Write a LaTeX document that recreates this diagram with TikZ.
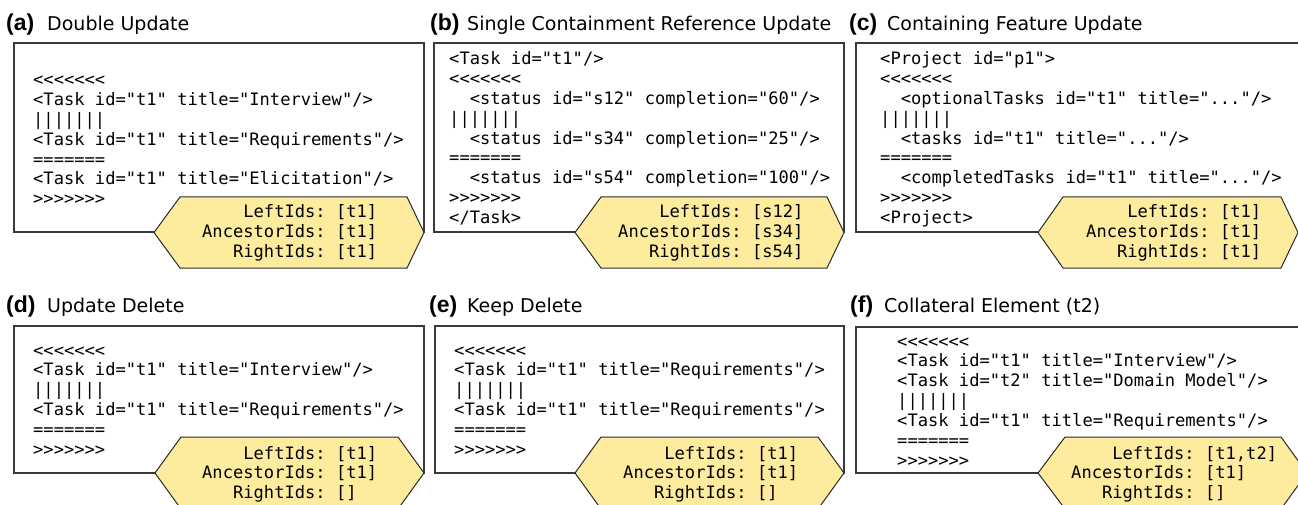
\documentclass[tikz,border=0pt]{standalone}
\usepackage{fontspec}
\setmainfont{DejaVu Sans}
\setmonofont{DejaVu Sans Mono}
\newfontfamily\labfont{Liberation Sans}
\definecolor{boxgray}{HTML}{3A3A3A}
\definecolor{hexline}{HTML}{2A2A2A}
\definecolor{hexfill}{HTML}{FDEB9E}
\newcommand\codeblk[1]{\vtop{\baselineskip=19.9pt\lineskiplimit=-100pt\lineskip=0pt\relax #1}}
\newcommand\ind{\phantom{xx}}
\tikzset{
  panelbox/.style={draw=boxgray, line width=1.3pt},
  idshex/.style={draw=hexline, fill=hexfill, line width=1pt, line join=miter},
  paneltag/.style={anchor=base west, inner sep=0pt, font=\labfont\bfseries\fontsize{23}{23}\selectfont},
  paneltitle/.style={anchor=base west, inner sep=0pt, font=\fontsize{19}{19}\selectfont},
  codetext/.style={anchor=base west, inner sep=0pt, font=\ttfamily\fontsize{17.1}{19.9}\selectfont},
}
\begin{document}
\begin{tikzpicture}[x=1pt,y=-1pt]
\useasboundingbox (0,0) rectangle (1298,505);
\fill[white] (0,0) rectangle (1298,505);
\clip (0,0) rectangle (1298,505);

% ---------- (a) ----------
\node[paneltag] (atag) at (6,31) {(a)};
\node[paneltitle] (atitle) at (47,31) {Double Update};
\draw[panelbox] (14,43) rectangle (424,232);
\node[codetext] (acode) at (33,85.5) {\codeblk{%
\hbox{<<<<<<<}%
\hbox{<Task id="t1" title="Interview"/>}%
\hbox{|||||||}%
\hbox{<Task id="t1" title="Requirements"/>}%
\hbox{=======}%
\hbox{<Task id="t1" title="Elicitation"/>}%
\hbox{>>>>>>>}}};
\draw[idshex] (154,232.5) -- (180,197) -- (407,197) -- (424,232.5) -- (407,268) -- (180,268) -- cycle;
\node[codetext] (aids) at (202,218) {\codeblk{%
\hbox{\phantom{xxxx}LeftIds: [t1]}%
\hbox{AncestorIds: [t1]}%
\hbox{\phantom{xxx}RightIds: [t1]}}};

% ---------- (b) ----------
\node[paneltag] (btag) at (430,31) {(b)};
\node[paneltitle] (btitle) at (467,31) {Single Containment Reference Update};
\draw[panelbox] (434,43) rectangle (844,232);
\node[codetext] (bcode) at (449,64.5) {\codeblk{%
\hbox{<Task id="t1"/>}%
\hbox{<<<<<<<}%
\hbox{\ind<status id="s12" completion="60"/>}%
\hbox{|||||||}%
\hbox{\ind<status id="s34" completion="25"/>}%
\hbox{=======}%
\hbox{\ind<status id="s54" completion="100"/>}%
\hbox{>>>>>>>}%
\hbox{</Task>}}};
\draw[idshex] (575,232.5) -- (601,197) -- (827,197) -- (844,232.5) -- (827,268) -- (601,268) -- cycle;
\node[codetext] (bids) at (618,218) {\codeblk{%
\hbox{\phantom{xxxx}LeftIds: [s12]}%
\hbox{AncestorIds: [s34]}%
\hbox{\phantom{xxx}RightIds: [s54]}}};

% ---------- (c) ----------
\node[paneltag] (ctag) at (849,31) {(c)};
\node[paneltitle] (ctitle) at (887,31) {Containing Feature Update};
\draw[panelbox] (856,43) rectangle (1299,232);
\node[codetext] (ccode) at (880,64.5) {\codeblk{%
\hbox{<Project id="p1">}%
\hbox{<<<<<<<}%
\hbox{\ind<optionalTasks id="t1" title="..."/>}%
\hbox{|||||||}%
\hbox{\ind<tasks id="t1" title="..."/>}%
\hbox{=======}%
\hbox{\ind<completedTasks id="t1" title="..."/>}%
\hbox{>>>>>>>}%
\hbox{<Project>}}};
\draw[idshex] (1038,232.5) -- (1063,197) -- (1281,197) -- (1298,232.5) -- (1281,268) -- (1063,268) -- cycle;
\node[codetext] (cids) at (1086,218) {\codeblk{%
\hbox{\phantom{xxxx}LeftIds: [t1]}%
\hbox{AncestorIds: [t1]}%
\hbox{\phantom{xxx}RightIds: [t1]}}};

% ---------- (d) ----------
\node[paneltag] (dtag) at (6,312) {(d)};
\node[paneltitle] (dtitle) at (47,312) {Update Delete};
\draw[panelbox] (14,326) rectangle (424,473);
\node[codetext] (dcode) at (33,356) {\codeblk{%
\hbox{<<<<<<<}%
\hbox{<Task id="t1" title="Interview"/>}%
\hbox{|||||||}%
\hbox{<Task id="t1" title="Requirements"/>}%
\hbox{=======}%
\hbox{>>>>>>>}}};
\draw[idshex] (155,473) -- (181,437) -- (398,437) -- (424,473) -- (398,509) -- (181,509) -- cycle;
\node[codetext] (dids) at (202,459) {\codeblk{%
\hbox{\phantom{xxxx}LeftIds: [t1]}%
\hbox{AncestorIds: [t1]}%
\hbox{\phantom{xxx}RightIds: []}}};

% ---------- (e) ----------
\node[paneltag] (etag) at (429,312) {(e)};
\node[paneltitle] (etitle) at (467,312) {Keep Delete};
\draw[panelbox] (435,326) rectangle (844,473);
\node[codetext] (ecode) at (454,356) {\codeblk{%
\hbox{<<<<<<<}%
\hbox{<Task id="t1" title="Requirements"/>}%
\hbox{|||||||}%
\hbox{<Task id="t1" title="Requirements"/>}%
\hbox{=======}%
\hbox{>>>>>>>}}};
\draw[idshex] (575,473) -- (601,437) -- (818,437) -- (844,473) -- (818,509) -- (601,509) -- cycle;
\node[codetext] (eids) at (623,459) {\codeblk{%
\hbox{\phantom{xxxx}LeftIds: [t1]}%
\hbox{AncestorIds: [t1]}%
\hbox{\phantom{xxx}RightIds: []}}};

% ---------- (f) ----------
\node[paneltag] (ftag) at (850,312) {(f)};
\node[paneltitle] (ftitle) at (884,312) {Collateral Element (t2)};
\draw[panelbox] (856,327) rectangle (1307,473);
\node[codetext] (fcode) at (897,347) {\codeblk{%
\hbox{<<<<<<<}%
\hbox{<Task id="t1" title="Interview"/>}%
\hbox{<Task id="t2" title="Domain Model"/>}%
\hbox{|||||||}%
\hbox{<Task id="t1" title="Requirements"/>}%
\hbox{=======}%
\hbox{>>>>>>>}}};
\draw[idshex] (1038,473) -- (1065,437) -- (1281,437) -- (1307,473) -- (1281,509) -- (1065,509) -- cycle;
\node[codetext] (fids) at (1071,459) {\codeblk{%
\hbox{\phantom{xxxx}LeftIds: [t1,t2]}%
\hbox{AncestorIds: [t1]}%
\hbox{\phantom{xxx}RightIds: []}}};
\end{tikzpicture}
\end{document}
